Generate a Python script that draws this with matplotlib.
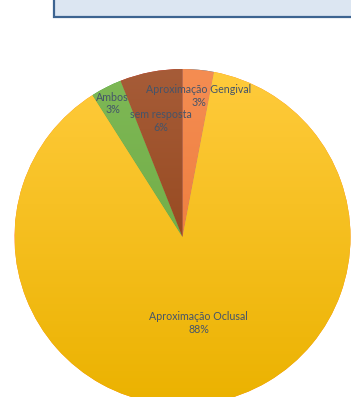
import numpy as np
import matplotlib.pyplot as plt
from matplotlib.colors import LinearSegmentedColormap
from matplotlib.patches import Rectangle

# respostas ao questionario
categorias = ["Aproximação Gengival", "Aproximação Oclusal", "Ambos", "sem resposta"]
percentagens = [3, 88, 3, 6]

# cor de cima / cor de baixo de cada fatia
cores_topo = ["#F58D52", "#FFCB3C", "#7EB856", "#A65C38"]
cores_base = ["#E8722F", "#EBB200", "#69A63C", "#8A3A0B"]

# posicao de cada rotulo (unidades do raio)
pos_rotulos = [(0.095, 0.84), (0.095, -0.51), (-0.415, 0.795), (-0.13, 0.69)]

plt.rcParams['font.family'] = ['Lato', 'DejaVu Sans']

fig = plt.figure(figsize=(3.51, 3.97), dpi=100)

# caixa do titulo no topo
caixa = Rectangle((54 / 351, 1 - 17 / 397), 1.0, 0.2, transform=fig.transFigure,
                  facecolor="#DCE6F2", edgecolor="#3D6491", linewidth=1.6)
fig.patches.append(caixa)

ax = fig.add_axes([14.5 / 351, -8 / 397, 336 / 351, 336 / 397])
wedges, _ = ax.pie(percentagens, startangle=90, counterclock=False,
                   radius=1, wedgeprops=dict(linewidth=0))

for w, c1, c2 in zip(wedges, cores_topo, cores_base):
    cmap = LinearSegmentedColormap.from_list("g", [c1, c2])
    grad = np.linspace(0, 1, 256).reshape(-1, 1)
    im = ax.imshow(grad, cmap=cmap, extent=(-1, 1, -1, 1), origin="upper",
                   aspect="auto", zorder=w.get_zorder() + 0.1)
    im.set_clip_path(w)

for cat, pct, (x, y) in zip(categorias, percentagens, pos_rotulos):
    ax.text(x, y, f"{cat}\n{pct}%", ha="center", va="center", fontsize=7.7,
            color="#44546A", linespacing=1.2, zorder=10)

ax.set_xlim(-1, 1)
ax.set_ylim(-1, 1)
ax.set_aspect("equal")
ax.axis("off")

fig.savefig("out.png", dpi=100)
